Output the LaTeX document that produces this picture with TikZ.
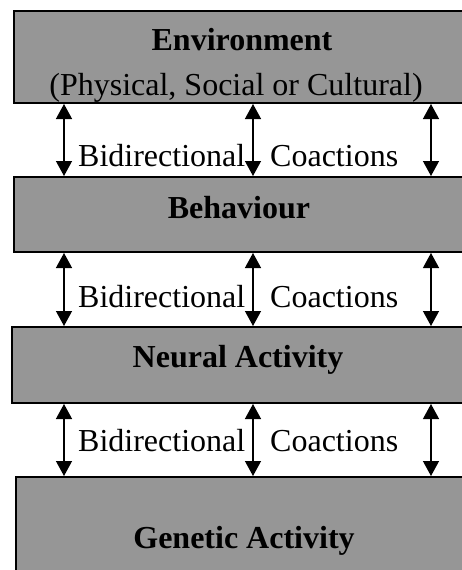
\documentclass[tikz,border=0pt]{standalone}
\usepackage{fontspec}
\setmainfont{Liberation Serif}
\usetikzlibrary{arrows.meta}
\definecolor{boxgray}{HTML}{969696}
\tikzset{
  layer/.style={draw=black, fill=boxgray, line width=2pt, rectangle, anchor=north west, inner sep=0pt},
  lbl/.style={inner sep=0pt, font=\fontsize{32}{38}\selectfont},
  blbl/.style={inner sep=0pt, font=\fontsize{32}{38}\selectfont\bfseries},
  biarrow/.style={line width=1.3pt, {Triangle[width=16pt,length=15pt]}-{Triangle[width=16pt,length=15pt]}}
}
\begin{document}
\begin{tikzpicture}[x=1pt,y=-1pt]
\useasboundingbox (0,0) rectangle (462,570);
\clip (0,0) rectangle (462,570);
% layers
\node[layer, minimum width=454pt, minimum height=92pt] (env) at (13,10) {};
\node[layer, minimum width=454pt, minimum height=75pt] (beh) at (13,176) {};
\node[layer, minimum width=456pt, minimum height=76pt] (neu) at (11,326) {};
\node[layer, minimum width=452pt, minimum height=110pt] (gen) at (15,476) {};
% layer texts
\node[blbl, anchor=base] (envt) at (242,50) {Environment};
\node[lbl, anchor=base] (envs) at (236,95) {(Physical, Social or Cultural)};
\node[blbl, anchor=base] (beht) at (239,218) {Behaviour};
\node[blbl, anchor=base] (neut) at (238,367) {Neural Activity};
\node[blbl, anchor=base] (gent) at (244,548) {Genetic Activity};
% arrow columns
\coordinate (c1) at (64,0);
\coordinate (c2) at (253,0);
\coordinate (c3) at (431,0);
\foreach \a/\b in {env/beh, beh/neu, neu/gen}{
  \foreach \c in {c1,c2,c3}{
    \draw[biarrow] (\a.south -| \c) -- (\b.north -| \c);
  }
}
% labels
\node[lbl, anchor=base west] (b1) at (78,166) {Bidirectional};
\node[lbl, anchor=base west] (k1) at (270,166) {Coactions};
\node[lbl, anchor=base west] (b2) at (78,307) {Bidirectional};
\node[lbl, anchor=base west] (k2) at (270,307) {Coactions};
\node[lbl, anchor=base west] (b3) at (78,451) {Bidirectional};
\node[lbl, anchor=base west] (k3) at (270,451) {Coactions};
\end{tikzpicture}
\end{document}
